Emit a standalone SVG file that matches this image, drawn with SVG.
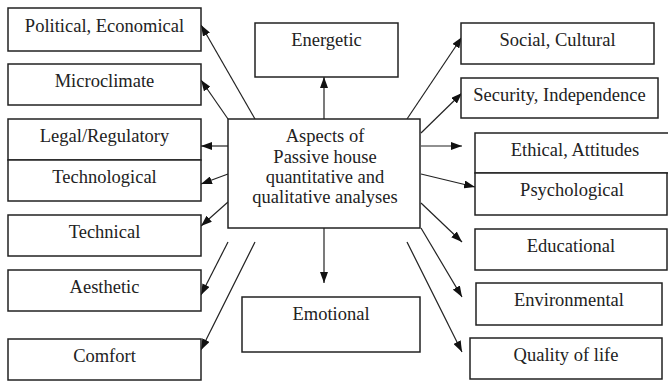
<svg xmlns="http://www.w3.org/2000/svg" width="668" height="382" viewBox="0 0 668 382">
<style>
.box{fill:#fff;stroke:#222;stroke-width:1.5}
.lbl{font-family:"Liberation Serif","Times New Roman",serif;font-size:18.5px;fill:#222;text-anchor:middle}
.con{stroke:#222;stroke-width:1.2;fill:none;marker-end:url(#ah)}
</style>
<defs>
<marker id="ah" markerUnits="userSpaceOnUse" markerWidth="11" markerHeight="8" refX="11" refY="4" orient="auto">
<path d="M0,0 L11,4 L0,8 z" fill="#111"/>
</marker>
</defs>
<rect width="668" height="382" fill="#fff"/>
<g id="connectors">
<line class="con" x1="255" y1="119" x2="201" y2="25"/>
<line class="con" x1="228" y1="119" x2="201" y2="80"/>
<line class="con" x1="228" y1="146" x2="201" y2="146"/>
<line class="con" x1="228" y1="174" x2="201" y2="184"/>
<line class="con" x1="228" y1="202" x2="201" y2="226"/>
<line class="con" x1="228" y1="242" x2="201" y2="295"/>
<line class="con" x1="255" y1="242" x2="201" y2="350"/>
<line class="con" x1="324" y1="119" x2="324" y2="77"/>
<line class="con" x1="324" y1="228" x2="324" y2="283"/>
<line class="con" x1="407" y1="119" x2="462" y2="37"/>
<line class="con" x1="421" y1="133" x2="462" y2="93"/>
<line class="con" x1="421" y1="146" x2="462" y2="146"/>
<line class="con" x1="421" y1="174" x2="475" y2="187"/>
<line class="con" x1="421" y1="203" x2="462" y2="242"/>
<line class="con" x1="421" y1="228" x2="462" y2="297"/>
<line class="con" x1="407" y1="242" x2="462" y2="352"/>
</g>
<g id="political"><rect class="box" x="8" y="8" width="193" height="43"/><text class="lbl" x="104.5" y="32">Political, Economical</text></g>
<g id="microclimate"><rect class="box" x="8" y="64" width="193" height="41"/><text class="lbl" x="104.5" y="87">Microclimate</text></g>
<g id="legal"><rect class="box" x="8" y="119" width="193" height="41"/><text class="lbl" x="104.5" y="142">Legal/Regulatory</text></g>
<g id="technological"><rect class="box" x="8" y="160" width="193" height="41"/><text class="lbl" x="104.5" y="183">Technological</text></g>
<g id="technical"><rect class="box" x="8" y="215" width="193" height="41"/><text class="lbl" x="104.5" y="238">Technical</text></g>
<g id="aesthetic"><rect class="box" x="8" y="270" width="193" height="41"/><text class="lbl" x="104.5" y="293">Aesthetic</text></g>
<g id="comfort"><rect class="box" x="8" y="339" width="193" height="41"/><text class="lbl" x="104.5" y="362">Comfort</text></g>
<g id="energetic"><rect class="box" x="255" y="23" width="143" height="54"/><text class="lbl" x="326.5" y="46">Energetic</text></g>
<g id="center"><rect class="box" x="228" y="119" width="192" height="109"/>
<text class="lbl" x="325" y="142">Aspects of</text>
<text class="lbl" x="325" y="163">Passive house</text>
<text class="lbl" x="325" y="183">quantitative and</text>
<text class="lbl" x="325" y="203">qualitative analyses</text></g>
<g id="emotional"><rect class="box" x="242" y="297" width="178" height="55"/><text class="lbl" x="331" y="320">Emotional</text></g>
<g id="social"><rect class="box" x="461" y="23" width="193" height="41"/><text class="lbl" x="557.5" y="46">Social, Cultural</text></g>
<g id="security"><rect class="box" x="461" y="78" width="197" height="40"/><text class="lbl" x="559.5" y="101">Security, Independence</text></g>
<g id="ethical"><rect class="box" x="475" y="133" width="200" height="40"/><text class="lbl" x="575" y="156">Ethical, Attitudes</text></g>
<g id="psychological"><rect class="box" x="475" y="173" width="192" height="42"/><text class="lbl" x="572" y="196">Psychological</text></g>
<g id="educational"><rect class="box" x="475" y="229" width="192" height="41"/><text class="lbl" x="571" y="252">Educational</text></g>
<g id="environmental"><rect class="box" x="476" y="283" width="186" height="42"/><text class="lbl" x="569" y="306">Environmental</text></g>
<g id="quality"><rect class="box" x="470" y="338" width="192" height="41"/><text class="lbl" x="566" y="361">Quality of life</text></g>
</svg>
